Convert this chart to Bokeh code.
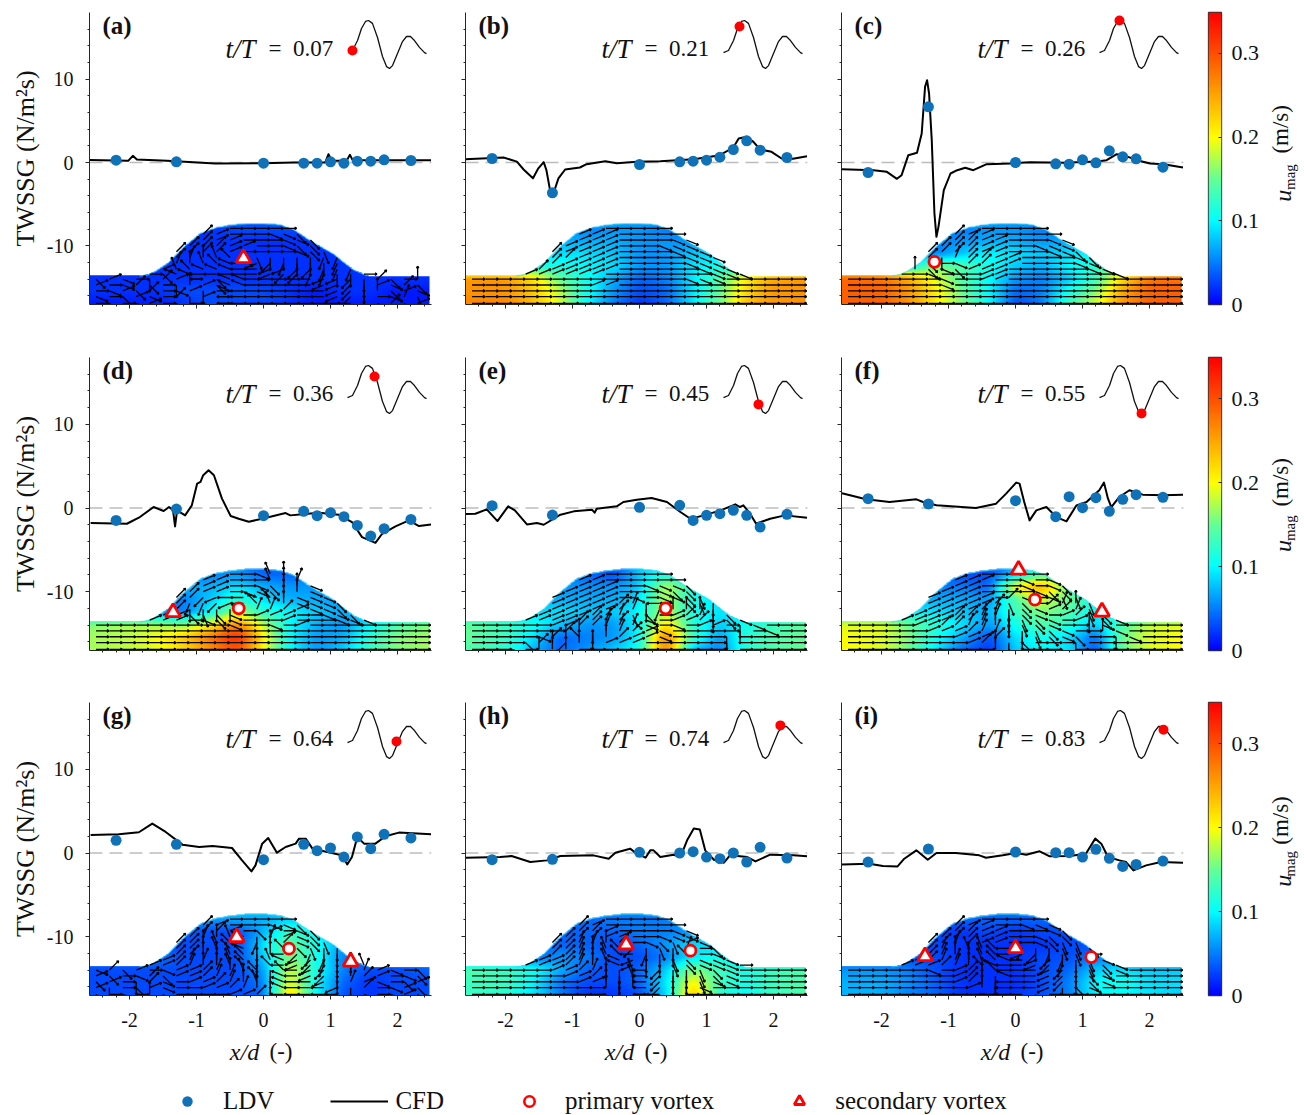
import numpy as np
from bokeh.embed import file_html
from bokeh.resources import INLINE
from bokeh.layouts import column, row
from bokeh.plotting import figure
from bokeh.core.properties import value
from bokeh.models import FixedTicker, LinearColorMapper, Label, Legend, LegendItem, Range1d

# ------------------------------------------------------------------ data
LDV_X = [-2.2, -1.3, 0, 0.6, 0.8, 1.0, 1.2, 1.4, 1.6, 1.8, 2.2]
LDV_a = [.28, .08, -.08, -.08, -.08, .08, -.08, .16, .16, .32, .24]
LDV_b = [.48, -3.64, -.24, .08, .16, .28, .64, 1.56, 2.6, 1.48, .6]
LDV_c = [-1.2, 6.68, 0, -.16, -.2, .32, -.04, 1.4, .68, .44, -.56]
LDV_d = [-1.48, -.12, -.92, -.4, -.92, -.56, -1.04, -2.08, -3.36, -2.48, -1.36]
LDV_e = [.28, -.84, .08, .32, -1.48, -.88, -.68, -.28, -.88, -2.28, -.76]
LDV_f = [1.12, .48, .88, -1.04, 1.36, .04, 1.24, -.4, 1.04, 1.6, 1.28]
LDV_g = [1.52, 1.04, -.8, 1.04, .28, .6, -.48, 1.92, .52, 2.24, 1.8]
LDV_h = [-.8, -.76, .08, 0, .16, -.48, -.68, 0, -1.08, .68, -.6]
LDV_i = [-1.08, .48, .12, .04, .04, -.48, .44, -.64, -1.6, -1.36, -.96]

CFD_X_a = [-2.6, -2.02, -1.95, -1.89, -1.44, -.72, 0, .45, .92, .97, 1.02, 1.24, 1.29, 1.33, 2.5]
CFD_Y_a = [.3, .2, .8, .36, .2, -.12, -.08, 0, 0, 1.0, .2, .2, .92, .28, .28]
CFD_X_b = [-2.6, -2.03, -1.83, -1.73, -1.59, -1.51, -1.43, -1.39, -1.34, -1.28, -1.21, -1.11, -.89, -.79, -.51, -.34, -.04, .31, .56, .81, 1.2, 1.4, 1.48, 1.6, 1.7, 1.8, 1.97, 2.12, 2.29, 2.5]
CFD_Y_b = [.4, .6, .1, -.84, -1.9, -.7, .04, -.9, -3.1, -3.6, -1.9, -.84, -.6, -.2, .16, -.08, .08, .16, .28, .4, .88, 1.8, 2.88, 3.08, 2.48, 1.56, 1.28, .48, .44, .76]
CFD_X_c = [-2.59, -2.12, -1.92, -1.77, -1.7, -1.6, -1.47, -1.4, -1.35, -1.32, -1.29, -1.25, -1.21, -1.18, -1.15, -1.07, -.97, -.87, -.75, -.63, -.43, -.08, .22, .72, 1.21, 1.36, 1.51, 1.61, 1.81, 2.01, 2.21, 2.5]
CFD_Y_c = [-.8, -.92, -1.12, -1.96, -1.52, .88, 1.16, 3.48, 9.08, 9.88, 8.28, 2.68, -6.12, -8.92, -7.72, -3.32, -1.32, -.92, -.64, -.92, -.2, -.12, .04, -.04, .12, .28, 1.0, .88, .28, -.12, -.2, -.6]
CFD_X_d = [-2.58, -2.04, -1.86, -1.64, -1.49, -1.41, -1.35, -1.32, -1.29, -1.17, -1.07, -.99, -.94, -.9, -.82, -.74, -.62, -.49, -.37, -.22, -.02, .33, .4, .58, .83, 1.12, 1.32, 1.47, 1.67, 1.77, 1.97, 2.17, 2.32, 2.5]
CFD_Y_d = [-1.8, -1.88, -1.16, .12, -.36, .12, -.28, -2.2, -.28, -.88, .32, 2.92, 3.12, 3.92, 4.52, 3.92, 1.12, -.96, -1.28, -1.64, -1.28, -.6, -.88, -.76, -.56, -.8, -1.68, -3.48, -4.16, -3.08, -2.2, -1.48, -2.16, -1.96]
CFD_X_e = [-2.59, -2.45, -2.28, -2.12, -1.96, -1.86, -1.68, -1.53, -1.43, -1.18, -.98, -.71, -.67, -.64, -.34, -.24, -.04, .18, .41, .61, .76, .96, 1.21, 1.43, 1.5, 1.55, 1.65, 1.74, 1.95, 2.17, 2.5]
CFD_Y_e = [-.72, -.68, -.16, -1.56, .2, -.28, -1.96, -1.8, -2.0, -.8, -.4, -.2, -.56, -.08, .2, .72, 1.0, 1.2, .72, -.48, -1.28, -.88, -.28, .44, .12, .32, -.68, -1.88, -1.28, -.88, -1.16]
CFD_X_f = [-2.59, -2.23, -1.88, -1.48, -1.38, -1.18, -.59, -.29, -.14, .01, .06, .13, .21, .31, .46, .61, .76, .91, 1.06, 1.25, 1.32, 1.38, 1.43, 1.55, 1.7, 1.9, 2.2, 2.5]
CFD_Y_f = [1.76, 1.04, .72, 1.04, .72, .32, 0, .52, 1.72, 3.04, 2.92, .72, -1.48, -.28, .12, -1.08, -1.6, .32, .72, 2.12, 3.04, 1.12, .12, 1.32, 2.12, 1.6, 1.52, 1.6]
CFD_X_g = [-2.58, -2.16, -1.86, -1.66, -1.46, -1.21, -.96, -.76, -.47, -.32, -.18, -.12, -.02, .07, .2, .33, .48, .53, .63, .73, 1.02, 1.17, 1.25, 1.32, 1.4, 1.5, 1.67, 1.82, 2.02, 2.5]
CFD_Y_g = [2.16, 2.24, 2.48, 3.52, 2.52, 1.0, .72, .84, .6, -.88, -2.2, -1.48, 1.12, 1.8, .04, .72, 1.12, 1.72, 1.72, .52, 0, -.28, -1.36, -.48, 1.92, 1.12, 1.12, 2.0, 2.44, 2.24]
CFD_X_h = [-2.59, -2.08, -1.91, -1.63, -1.38, -1.18, -.69, -.46, -.36, -.14, -.04, .09, .16, .21, .31, .51, .61, .71, .81, .9, .98, 1.11, 1.26, 1.35, 1.61, 1.73, 1.95, 2.3, 2.5]
CFD_Y_h = [-.56, -.48, -.36, -1.08, -.88, -.36, -.28, -.68, .04, .52, -.08, -.56, .32, .32, -.48, -.2, -.48, 1.52, 2.92, 2.8, .32, -.8, -1.16, -.28, -.48, -1.0, -.2, -.28, -.4]
CFD_X_i = [-2.59, -2.18, -1.98, -1.76, -1.66, -1.48, -1.31, -1.18, -.89, -.54, -.44, -.19, .01, .16, .36, .51, .81, 1.05, 1.19, 1.28, 1.38, 1.55, 1.65, 1.76, 1.95, 2.17, 2.5]
CFD_Y_i = [-1.36, -1.28, -1.56, -1.6, -.68, .32, -.8, 0, 0, -.28, -.56, -.28, 0, -.2, .2, -.4, -.36, -.08, 1.72, 1.12, -.48, -.88, -1.08, -2.08, -1.48, -1.08, -1.16]

PRIMARY = {"a": [], "b": [], "c": [(-1.21, -11.92)], "d": [(-.37, -12.0)], "e": [(.39, -12.0)],
           "f": [(.29, -10.96)], "g": [(.38, -11.44)], "h": [(.76, -11.68)], "i": [(1.13, -12.44)]}
SECONDARY = {"a": [(-.3, -11.5)], "b": [], "c": [], "d": [(-1.35, -12.48)], "e": [],
             "f": [(.045, -7.4), (1.29, -12.4)], "g": [(-.4, -10.08), (1.3, -13.0)],
             "h": [(-.2, -10.96)], "i": [(-1.35, -12.36), (0, -11.4)]}

PHASE_LABELS = ["0.07", "0.21", "0.26", "0.36", "0.45", "0.55", "0.64", "0.74", "0.83"]
WAVE_PHASE = [0, .063, .127, .177, .228, .266, .316, .38, .443, .494, .532, .57, .633, .696, .747, .797, .848, .911, .975, 1]
WAVE_LEVEL = [.33, .375, .583, .833, .98, 1, .94, .646, .25, .04, 0, .06, .31, .56, .667, .667, .583, .44, .33, .31]
DOT_PHASE = [.063, .203, .253, .342, .443, .532, .62, .72, .81]
DOT_LEVEL = [.375, .875, 1, .77, .19, 0, .354, .69, .6]

HILL_X = [-2.6, -1.85, -1.73, -1.6, -1.43, -1.2, -.94, -.69, -.45, -.24, 0, .25, .46, .66, .85, 1.05, 1.2, 1.35, 1.55, 1.7, 2.5]
HILL_Y = [-13.6, -13.6, -13.5, -13.0, -12.1, -10.2, -8.5, -7.8, -7.5, -7.35, -7.35, -7.5, -8.1, -9.2, -10.1, -11, -12.0, -12.9, -13.6, -13.7, -13.7]

FIELD_X = [-2.6, -2, -1.6, -1.2, -.8, -.4, 0, .4, .8, 1.2, 1.6, 2, 2.5]
FIELD_Y = [-8, -9.5, -11, -12.5, -14, -15.5, -17.1]
FIELD_a = [[2,2,2,2,2,3,3,3,2,2,2,2,2],[2,2,2,2,2,2,2,2,2,2,2,2,2],[2,2,2,2,2,2,2,2,2,2,2,2,2],[2,2,2,2,2,2,2,2,2,2,2,2,2],[2,2,2,2,2,2,2,2,2,2,2,2,2],[2,2,2,3,3,3,3,2,1,2,2,1,1],[1,1,1,2,3,3,3,2,1,1,1,1,1]]
FIELD_b = [[5,5,5,5,5,6,6,5,4,4,5,5,5],[7,7,7,7,7,7,6,6,6,7,8,8,8],[9,9,9,9,9,8,6,6,8,9,10,10,10],[11,11,11,11,10,9,6,6,9,11,13,14,14],[26,26,22,15,11,7,4,5,9,14,21,25,26],[26,26,23,18,11,6,3,4,9,15,22,26,26],[27,27,24,19,10,5,2,4,9,15,24,26,26]]
FIELD_c = [[5,5,5,4,5,6,6,5,5,5,5,5,5],[6,6,6,5,6,7,7,6,7,8,8,8,8],[8,8,6,5,8,10,9,8,9,10,10,10,10],[18,18,10,16,14,11,8,7,10,12,18,18,18],[29,28,25,19,14,10,6,5,8,13,22,28,28],[29,29,26,21,15,10,4,5,11,16,25,29,29],[29,29,26,21,16,10,3,5,13,19,26,29,29]]
FIELD_d = [[5,5,5,5,5,6,4,4,5,5,5,5,5],[7,7,7,7,7,9,7,6,6,6,6,6,6],[6,6,6,5,8,12,9,7,7,6,6,6,6],[6,6,5,5,10,18,12,10,8,7,7,7,7],[16,17,17,16,20,27,18,10,7,6,10,14,16],[17,18,20,23,28,33,21,10,6,7,12,16,17],[17,18,19,22,26,30,20,10,6,8,13,16,17]]
FIELD_e = [[5,5,5,5,4,3,8,11,10,6,6,6,6],[6,6,6,6,6,6,8,18,12,8,8,8,8],[7,7,7,7,7,7,9,18,11,9,8,8,8],[9,9,9,9,8,8,10,18,11,9,10,10,10],[15,13,11,8,6,6,10,22,12,8,11,13,15],[15,13,9,4,5,6,10,28,13,6,12,14,15],[14,12,7,4,6,8,11,28,7,5,12,14,15]]
FIELD_f = [[3,3,3,3,3,3,8,14,9,6,6,6,6],[5,5,5,5,5,4,21,25,15,8,8,8,8],[7,7,7,7,7,6,14,19,15,11,9,9,9],[10,10,10,9,8,7,13,16,14,10,10,10,10],[19,19,15,12,9,6,11,14,12,8,14,18,19],[20,19,16,11,7,3,9,11,9,4,15,19,20],[20,19,15,9,4,2,8,10,9,3,15,19,20]]
FIELD_g = [[6,6,6,6,6,7,7,8,8,6,6,6,6],[4,4,4,4,3,3,7,13,10,7,5,5,5],[3,3,3,3,3,3,9,15,11,6,4,4,4],[5,5,5,3,3,3,8,16,11,5,5,5,5],[3,3,3,3,3,3,6,19,11,5,3,3,4],[3,3,3,3,3,3,5,20,10,4,2,3,3],[3,3,3,3,3,3,4,23,10,3,2,3,3]]
FIELD_h = [[5,5,5,5,4,5,5,5,6,6,6,6,6],[4,4,4,4,4,4,5,5,6,7,7,7,7],[4,4,4,4,4,3,4,6,9,8,7,7,7],[4,4,4,6,5,3,3,5,9,11,9,7,7],[14,13,11,7,4,3,4,8,16,13,11,13,14],[13,13,10,5,3,3,4,9,21,13,11,13,14],[13,12,9,5,2,2,3,8,24,12,10,13,14]]
FIELD_i = [[4,4,4,4,4,4,4,4,4,4,4,4,4],[3,3,3,3,2,3,2,3,3,3,3,3,3],[3,3,3,3,2,2,2,2,3,3,3,3,3],[3,3,3,3,2,2,2,3,3,5,5,5,5],[6,6,5,3,2,2,2,3,4,8,9,8,8],[7,7,6,4,2,2,2,3,5,10,11,9,9],[7,7,5,4,2,2,2,3,5,10,10,9,8]]

# arrow directions: one hex digit per arrow, 0=E, 4=N, 8=W, c=S, in sixteenths of a turn
ARROW_ROW_Y = [-7.9, -8.6, -9.3, -10.0, -10.7, -11.4, -12.1, -12.8, -13.4, -14.0, -14.7, -15.4, -16.1, -16.9]
ARROW_ROW_START = [-.5, -.9, -.9, -1.1, -1.3, -1.3, -1.3, -1.5, -1.7, -2.5, -2.5, -2.5, -2.5, -2.5]
ARROW_ROW_COUNT = [5, 8, 9, 10, 12, 13, 13, 15, 17, 25, 25, 25, 25, 25]
ARROWS_a = ["00000","21000ffe","211000ffe","2221100fee","222210000fed","23456edccccbb","3456789abcccb","1567778899aabbb","0e77888889aabbcc0",
            "e1f0c2108e778888899ac2e04","10f2e0c41e778888899ac1f2e","0f1e20f1c0788888889ac4e1f","f0e1f02c10888888889ac0f3d","0e0f10e0f08888888888cf2e1"]
ARROWS_b = ["00000","11100000","1110000ff","1111000fff","211110000fff","2211100000fff","2111100000fff","211111000000fff","11111100000000fff",
            "0000000000000000fff000000","0000000001100000000000000","0000000000000000000000000","0000000000000000000000000","0000000000000000000000000"]
ARROWS_c = ["00000","21100000","2211000ff","2221100fff","222211000ffe","2c322110000fe","e0f22110000ff","4efe111000000ff","00f0001100000000f",
            "0000000f00110000000000000","0000000f00000000000000000","0000000000000000000000000","0000000000000000000000000","0000000000000000000000000"]
ARROWS_d = ["00f54","11000543","1100fe44f","2110ffe44f","22a988764fff","2bba98654fffe","2cccc73321ffe","11edef011100ffe","1110fef0001000fff",
            "0000000000f00f01000000000","0000000000000000000000000","0000000000000000000000000","0000000000000000000000000","0000000000000000000000000"]
ARROWS_e = ["00000","11000000","11100fffe","1111000fee","111110f0ffed","1111123c88edc","1111123cb444c","1111223de0123ce","11112232ef0112cef",
            "0000001122333f0f0110cf000","000000024c4321f00000c0f00","00000f246c4211f0000c00000","0000e24a44111000000c00000","000f044400000000000c00000"]
ARROWS_f = ["00000","11100f0f","11000f0fe","1110000fee","1111102f0fdd","111112de0234d","111123cef123d","1112233cef012de","11112234cdef01cef",
            "000001122334cdef004f00000","0000001112334cdef004f0000","0000000011124cdefe00cf000","000000000124ce000c0000000","000000000004e000c00000000"]
ARROWS_g = ["00000","21000ffe","2210e10fe","23457c31fe","224568b42fed","224567c46edcc","224456c48abcc","1233456c579abcc","11234456c689abc45",
            "f2e10f1123456c689ac431f0e","1e0f2e1123346c789ac4210fe","e10c2f0112345c7889c31f0e1","1c0e1f0011234c78889c20f1e","e0f04e0000112c88888cf0f1e"]
ARROWS_h = ["00000","21000000","2210000ff","2221100fff","2233420fed1f","223456acdc30e","2234568bcc60f","11234579ccdefff","111234c79ccdefff0",
            "00000011234c58accdef00000","00000001124c58accdef00000","00000000114c48accdff00000","00000000004c48accf0000000","0000000000c4088c000000000"]
ARROWS_i = ["00000","21100fff","2211000fe","2221100fee","22321100fedd","2345568bccdde","23445689abcd0","1233456789abcdf","11123467889abcdef",
            "000000f012468889acdef0000","00000000124c7889acef00000","00000000124c8889acef00000","00000000014c8889cef000000","0000000000c888c0000000000"]

CBAR_TICKS = [0, .1, .2, .3]
CBAR_STOPS = [0, .1, .15, .2, .3, .35]
CBAR_R = [0, 0, 100, 255, 255, 255]
CBAR_G = [0, 255, 255, 255, 80, 0]
CBAR_B = [255, 255, 150, 0, 0, 0]

# ------------------------------------------------------------------ style / layout
SERIF = "Liberation Serif"
AX = "#262626"
BLUE = "#0f72b8"
XMIN, XMAX = -2.597, 2.507
YMIN, YMAX = -17.04, 18.0
FW = 342
XPX = FW / (XMAX - XMIN)
COLS = [(89, 17), (17, 17), (17, 17)]
ROWS = [(292, 12, 26), (293, 27, 25), (293, 27, 45)]

s = np.linspace(0, .35, 256)
PALETTE = ["#%02x%02x%02x" % (int(r), int(g), int(b))
           for r, g, b in zip(np.interp(s, CBAR_STOPS, CBAR_R), np.interp(s, CBAR_STOPS, CBAR_G), np.interp(s, CBAR_STOPS, CBAR_B))]
mapper = LinearColorMapper(palette=PALETTE, low=0, high=.35, nan_color="rgba(0,0,0,0)")


def style_axis(ax):
    ax.axis_line_color = AX
    ax.major_tick_line_color = AX
    ax.minor_tick_line_color = AX
    ax.major_tick_in = 0
    ax.minor_tick_in = 0
    ax.major_tick_out = 4
    ax.minor_tick_out = 2
    ax.major_label_text_font = SERIF
    ax.major_label_text_font_size = "20px"
    ax.major_label_text_color = "#111111"


def soften(a, w):
    k = np.ones(w) / w
    pad = np.pad(a, w // 2, mode="edge")
    return np.convolve(pad, k, mode="valid")[:a.size]


def field_image(grid):
    gx = np.linspace(XMIN, XMAX, 343)
    gy = np.linspace(YMIN, -7.0, 130)
    g = np.array(grid, dtype=float)[::-1] / 100.0
    fy = np.array(FIELD_Y)[::-1]
    by_col = np.array([np.interp(gy, fy, g[:, j]) for j in range(g.shape[1])])
    img = np.array([np.interp(gx, FIELD_X, by_col[:, i]) for i in range(len(gy))])
    img = np.array([soften(soften(line, 11), 11) for line in img])
    img = np.array([soften(line, 11) for line in img.T]).T
    top = np.interp(gx, HILL_X, HILL_Y)
    img[gy[:, None] > top[None, :]] = np.nan
    img[:, gx > 2.49] = np.nan
    return img


def arrow_segments(rows, ypx):
    x0, y0, x1, y1 = [], [], [], []
    L, H = 13.0, 2.4
    for r, text in enumerate(rows):
        text = text.ljust(ARROW_ROW_COUNT[r], "0")[:ARROW_ROW_COUNT[r]]
        for k, ch in enumerate(text):
            a = int(ch, 16) * np.pi / 8
            bx, by = ARROW_ROW_START[r] + .2 * k, ARROW_ROW_Y[r]
            tx, ty = bx + L * np.cos(a) / XPX, by + L * np.sin(a) / ypx
            x0.append(bx); y0.append(by); x1.append(tx); y1.append(ty)
            for d in (2.6, -2.6):
                x0.append(tx); y0.append(ty)
                x1.append(tx + H * np.cos(a + d) / XPX); y1.append(ty + H * np.sin(a + d) / ypx)
    return x0, y0, x1, y1


def panel(letter, idx, r, c):
    fh, top, bot = ROWS[r]
    left, right = COLS[c]
    ypx = fh / (YMAX - YMIN)
    p = figure(width=left + FW + right, height=top + fh + bot, output_backend="svg", toolbar_location=None,
               x_range=Range1d(XMIN, XMAX), y_range=Range1d(YMIN, YMAX),
               min_border_left=left, min_border_right=right, min_border_top=top, min_border_bottom=bot,
               background_fill_color="white", border_fill_color="white", outline_line_color=None)
    p.grid.visible = False
    style_axis(p.xaxis[0]); style_axis(p.yaxis[0])
    p.xaxis.ticker = FixedTicker(ticks=[-2, -1, 0, 1, 2], minor_ticks=[round(-2.6 + .2 * i, 1) for i in range(26)])
    p.yaxis.ticker = FixedTicker(ticks=[-10, 0, 10], minor_ticks=list(range(-16, 18, 2)))
    p.xaxis.major_label_standoff = 13 if r == 2 else 0
    p.yaxis.major_label_standoff = 12 if c == 0 else 0
    p.xaxis.major_label_overrides = {i: (str(i) if r == 2 else "") for i in [-2, -1, 0, 1, 2]}
    p.yaxis.major_label_overrides = {i: (str(i) if c == 0 else "") for i in [-10, 0, 10]}
    if c == 0:
        p.yaxis.axis_label = "TWSSG (N/m\u00b2s)"
        p.yaxis.axis_label_text_font = SERIF
        p.yaxis.axis_label_text_font_style = "normal"
        p.yaxis.axis_label_text_font_size = "26px"
        p.yaxis.axis_label_text_color = "#111111"
        p.yaxis.axis_label_standoff = 4

    p.image(image=[field_image(globals()["FIELD_" + letter])], x=XMIN, y=YMIN, dw=XMAX - XMIN, dh=-7.0 - YMIN, color_mapper=mapper)
    hx = [a for a in HILL_X if -1.9 < a < 1.6]
    hy = [b for a, b in zip(HILL_X, HILL_Y) if -1.9 < a < 1.6]
    p.line(hx, hy, line_color="#35d5f5", line_width=1.3, line_alpha=.6)
    x0, y0, x1, y1 = arrow_segments(globals()["ARROWS_" + letter], ypx)
    p.segment(x0, y0, x1, y1, line_color="black", line_width=1.35)

    p.line([XMIN, XMAX], [0, 0], line_color="#bdbdbd", line_width=1.4, line_dash="13 7")
    p.line(globals()["CFD_X_" + letter], globals()["CFD_Y_" + letter], line_color="black", line_width=2.0, line_join="round")
    p.scatter(LDV_X, globals()["LDV_" + letter], size=11, marker="circle", fill_color=BLUE, line_color=BLUE, line_width=0)

    pv = PRIMARY[letter]
    if pv:
        p.scatter([v[0] for v in pv], [v[1] for v in pv], marker="circle", size=11, fill_color="white", line_color="red", line_width=2.8)
    sv = SECONDARY[letter]
    if sv:
        p.scatter([v[0] for v in sv], [v[1] for v in sv], marker="triangle", size=15, fill_color="white", line_color="red", line_width=2.8)

    def dx(px): return XMIN + px / XPX
    def dy(px): return YMAX - px / ypx

    wp = WAVE_PHASE[1:] if idx == 0 else WAVE_PHASE
    wl = WAVE_LEVEL[1:] if idx == 0 else WAVE_LEVEL
    p.line([dx(258 + 79 * a) for a in wp], [dy(56 - 48 * b) for b in wl], line_color="#111111", line_width=1.3)
    p.scatter([dx(258 + 79 * DOT_PHASE[idx])], [dy(56 - 48 * DOT_LEVEL[idx])], size=10, fill_color="red", line_color="red", line_width=0)

    def lab(text, px, py, size, style="normal", align="left"):
        p.add_layout(Label(x=dx(px), y=dy(py), text=text, text_font=SERIF, text_font_size=size, text_font_style=style,
                           text_align=align, text_baseline="middle", text_color="#111111"))

    lab("(%s)" % letter, 13, 13, "25px", "bold")
    lab("t/T", 151, 36, "27px", "italic", "center")
    lab("=\u00a0\u00a0" + PHASE_LABELS[idx], 179, 36, "23px")
    return p


def colorbar_fig(r):
    fh, top, bot = ROWS[r]
    h = top + fh + bot
    p = figure(width=62, height=h, output_backend="svg", toolbar_location=None,
               x_range=Range1d(0, 1), y_range=Range1d(0, .349), y_axis_location="right", x_axis_location=None,
               min_border_left=8, min_border_right=40, min_border_top=top, min_border_bottom=bot,
               outline_line_color="#333333", outline_line_width=1.3, border_fill_color="white")
    p.grid.visible = False
    vals = np.linspace(0, .349, 256).reshape(-1, 1)
    p.image(image=[vals], x=0, y=0, dw=1, dh=.349, color_mapper=mapper)
    style_axis(p.yaxis[0])
    p.yaxis.axis_line_color = None
    p.yaxis.ticker = FixedTicker(ticks=CBAR_TICKS, minor_ticks=[])
    p.yaxis.major_tick_out = 0
    p.yaxis.major_tick_in = 3
    p.yaxis.major_label_standoff = 10
    p.yaxis.major_label_text_font_size = "22px"
    p.yaxis.major_label_overrides = {0: "0", .1: "0.1", .2: "0.2", .3: "0.3"}
    # label column beside the colour bar; its y range is pixels from the frame top
    q = figure(width=42, height=h, output_backend="svg", toolbar_location=None,
               x_range=Range1d(1262, 1304), y_range=Range1d(h - top, -top), x_axis_location=None, y_axis_location=None,
               min_border=0, outline_line_color=None, border_fill_color="white")
    q.grid.visible = False
    for txt, px, py, size, style in [("u", 1282, 195, "24px", "italic"), ("mag", 1289, 174, "15px", "normal"), ("(m/s)", 1280, 120, "23px", "normal")]:
        q.add_layout(Label(x=px, y=py, text=txt, angle=np.pi / 2, text_font=SERIF, text_font_size=size, text_font_style=style,
                           text_align="center", text_baseline="middle", text_color="#111111"))
    return p, q


letters = "abcdefghi"
rows_out = []
for r in range(3):
    cells = [panel(letters[3 * r + c], 3 * r + c, r, c) for c in range(3)]
    cells.extend(colorbar_fig(r))
    rows_out.append(row(*cells, spacing=0))

strip = figure(width=1304, height=75, output_backend="svg", toolbar_location=None,
               x_range=Range1d(0, 1304), y_range=Range1d(1115, 1040), x_axis_location=None, y_axis_location=None,
               min_border=0, outline_line_color=None)
strip.grid.visible = False
for off in (0, 375, 751):
    strip.text([244 + off], [1051], text=["x/d"], text_font=value(SERIF), text_font_size="24px", text_font_style="italic",
               text_align="center", text_baseline="middle", text_color="#111111")
    strip.text([269 + off], [1051], text=["(-)"], text_font=value(SERIF), text_font_size="23px",
               text_align="left", text_baseline="middle", text_color="#111111")
off_x, off_y = [-100], [2000]
r1 = strip.scatter(off_x, off_y, marker="circle", size=11, fill_color=BLUE, line_color=BLUE, line_width=0)
r2 = strip.line(off_x, off_y, line_color="black", line_width=2.0)
r3 = strip.scatter(off_x, off_y, marker="circle", size=10, fill_color="white", line_color="red", line_width=2.6)
r4 = strip.scatter(off_x, off_y, marker="triangle", size=15, fill_color="white", line_color="red", line_width=2.8)
leg = Legend(items=[LegendItem(label="LDV", renderers=[r1]), LegendItem(label="CFD", renderers=[r2]),
                    LegendItem(label="primary vortex", renderers=[r3]), LegendItem(label="secondary vortex", renderers=[r4])],
             orientation="horizontal", location=(158, 0), glyph_width=58, glyph_height=26, label_standoff=7, spacing=56,
             label_text_font=SERIF, label_text_font_size="25px", label_text_color="#111111", label_height=26,
             padding=0, margin=0, border_line_color=None, background_fill_alpha=0)
strip.add_layout(leg)

page = column(*rows_out, strip, spacing=0)
open("out.html", "w").write(file_html(page, INLINE))
